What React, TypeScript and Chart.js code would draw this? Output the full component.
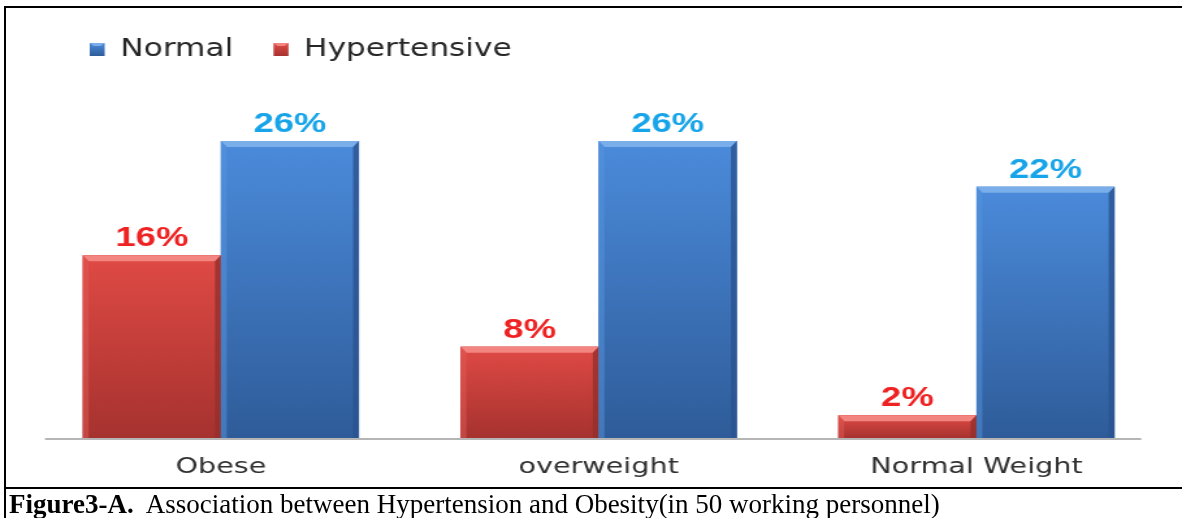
import React, { useEffect, useRef } from 'react';
import { Chart, registerables } from 'chart.js';

Chart.register(...registerables);

// ---- data ----
const categories = ['Obese', 'overweight', 'Normal Weight'];
const hypertensiveValues = [16, 8, 2];
const normalValues = [26, 26, 22];
const legendOrder = ['Normal', 'Hypertensive'];
const yMax = 30;

// ---- geometry / style ----
const STRETCH = 1.3;
const CANVAS_W = Math.round(1182 / STRETCH);
const CANVAS_H = 488;

const palette: Record<string, any> = {
  Normal: { top: '#4b8bdb', bottom: '#2f5c99', mid: '#3d76c2', bevelTop: '#79aeea', bevelLeft: '#5594de', side: '#2b5390', label: '#18a4e8' },
  Hypertensive: { top: '#e04a45', bottom: '#a6322f', mid: '#c93f3b', bevelTop: '#f28580', bevelLeft: '#e05a55', side: '#92302c', label: '#ee2222' },
};

const baselinePlugin = {
  id: 'baseline',
  beforeDatasetsDraw(chart: any) {
    const { ctx, chartArea } = chart;
    ctx.save();
    ctx.strokeStyle = '#b5b5b5';
    ctx.lineWidth = 2;
    ctx.beginPath();
    ctx.moveTo(chartArea.left + 10, chartArea.bottom + 1);
    ctx.lineTo(chartArea.right - 18.5, chartArea.bottom + 1);
    ctx.stroke();
    ctx.restore();
  },
};

const barStylePlugin = {
  id: 'barStyle',
  afterDatasetsDraw(chart: any) {
    const { ctx } = chart;
    chart.data.datasets.forEach((ds: any, di: number) => {
      const meta = chart.getDatasetMeta(di);
      const pal = palette[ds.label];
      meta.data.forEach((el: any, i: number) => {
        const { x, y, width, base } = el.getProps(['x', 'y', 'width', 'base'], true);
        const l = x - width / 2;
        const r = x + width / 2;
        const t = y;
        const b = base;
        const bv = 6;
        const bh = 4.5;
        ctx.save();
        const g = ctx.createLinearGradient(0, t, 0, b);
        g.addColorStop(0, pal.top);
        g.addColorStop(1, pal.bottom);
        ctx.fillStyle = g;
        ctx.fillRect(l, t, width, b - t);
        ctx.fillStyle = pal.bevelTop;
        ctx.beginPath();
        ctx.moveTo(l, t);
        ctx.lineTo(r, t);
        ctx.lineTo(r - bh, t + bv);
        ctx.lineTo(l + bh, t + bv);
        ctx.closePath();
        ctx.fill();
        ctx.globalAlpha = 0.5;
        ctx.fillStyle = pal.bevelLeft;
        ctx.beginPath();
        ctx.moveTo(l, t);
        ctx.lineTo(l + bh, t + bv);
        ctx.lineTo(l + bh, b);
        ctx.lineTo(l, b);
        ctx.closePath();
        ctx.fill();
        ctx.globalAlpha = 0.8;
        ctx.fillStyle = pal.side;
        ctx.beginPath();
        ctx.moveTo(r, t);
        ctx.lineTo(r - bh, t + bv);
        ctx.lineTo(r - bh, b);
        ctx.lineTo(r, b);
        ctx.closePath();
        ctx.fill();
        ctx.globalAlpha = 1;
        ctx.fillStyle = pal.label;
        ctx.font = 'bold 28px "Liberation Sans", Arial, sans-serif';
        ctx.textAlign = 'center';
        ctx.textBaseline = 'alphabetic';
        ctx.fillText(`${ds.data[i]}%`, x, t - 9);
        ctx.restore();
      });
    });
  },
};

const legendPlugin = {
  id: 'customLegend',
  afterDraw(chart: any) {
    const { ctx } = chart;
    let x = 69;
    const yMid = 49.5;
    ctx.save();
    legendOrder.forEach((name) => {
      const pal = palette[name];
      const w = 11.5;
      const h = 13;
      const top = yMid - h / 2;
      const g = ctx.createLinearGradient(0, top, 0, top + h);
      g.addColorStop(0, pal.top);
      g.addColorStop(1, pal.bottom);
      ctx.fillStyle = g;
      ctx.fillRect(x, top, w, h);
      ctx.fillStyle = pal.bevelTop;
      ctx.beginPath();
      ctx.moveTo(x, top);
      ctx.lineTo(x + w, top);
      ctx.lineTo(x + w - 3, top + 3);
      ctx.lineTo(x + 3, top + 3);
      ctx.closePath();
      ctx.fill();
      ctx.fillStyle = '#262626';
      ctx.font = '24px "DejaVu Sans", sans-serif';
      ctx.textAlign = 'left';
      ctx.textBaseline = 'middle';
      ctx.fillText(name, x + w + 12, yMid);
      const tw = ctx.measureText(name).width;
      x = x + w + 12 + tw + 31;
    });
    ctx.restore();
  },
};

export default function App() {
  const ref = useRef<HTMLCanvasElement>(null);

  useEffect(() => {
    const canvas = ref.current;
    if (!canvas) return;
    const chart = new Chart(canvas, {
      type: 'bar',
      data: {
        labels: categories,
        datasets: [
          {
            label: 'Hypertensive',
            data: hypertensiveValues,
            backgroundColor: palette.Hypertensive.mid,
            borderWidth: 0,
            categoryPercentage: 0.731,
            barPercentage: 1,
          },
          {
            label: 'Normal',
            data: normalValues,
            backgroundColor: palette.Normal.mid,
            borderWidth: 0,
            categoryPercentage: 0.731,
            barPercentage: 1,
          },
        ],
      },
      options: {
        responsive: false,
        devicePixelRatio: 1,
        animation: false,
        events: [],
        layout: {
          padding: { left: 24.6, right: CANVAS_W - 896.2, top: 95.4, bottom: 0 },
        },
        plugins: {
          legend: { display: false },
          tooltip: { enabled: false },
          title: { display: false },
        },
        scales: {
          y: {
            display: false,
            min: 0,
            max: yMax,
          },
          x: {
            grid: { display: false, drawTicks: false },
            border: { display: false },
            ticks: {
              color: '#303030',
              font: { family: '"DejaVu Sans", sans-serif', size: 22 },
              padding: 16,
            },
            afterFit(scale: any) {
              scale.height = 50;
            },
          },
        },
      },
      plugins: [baselinePlugin, barStylePlugin, legendPlugin],
    });
    return () => chart.destroy();
  }, []);

  return (
    <div
      style={{
        position: 'fixed',
        left: 0,
        top: 0,
        width: 1182,
        height: 518,
        background: '#fff',
        overflow: 'hidden',
      }}
    >
      <canvas
        ref={ref}
        width={CANVAS_W}
        height={CANVAS_H}
        style={{ position: 'absolute', left: 0, top: 0, width: 1182, height: CANVAS_H }}
      />
      <div
        style={{
          position: 'absolute',
          left: 4,
          top: 6,
          width: 1200,
          height: 483,
          boxSizing: 'border-box',
          borderTop: '2px solid #000',
          borderLeft: '2px solid #000',
          borderBottom: '2px solid #000',
        }}
      />
      <div style={{ position: 'absolute', left: 4, top: 488, width: 2, height: 40, background: '#000' }} />
      <div
        style={{
          position: 'absolute',
          left: 9,
          top: 490,
          whiteSpace: 'pre',
          fontFamily: '"Liberation Serif", "Times New Roman", serif',
          fontSize: 27,
          lineHeight: '28px',
          color: '#000',
        }}
      >
        <b>Figure3-A.</b>
        {'  Association between Hypertension and Obesity(in 50 working personnel)'}
      </div>
    </div>
  );
}
